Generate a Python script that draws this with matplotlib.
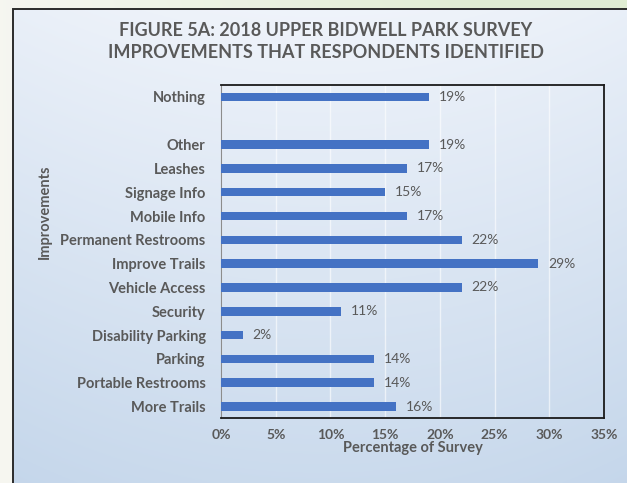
import numpy as np
import matplotlib
matplotlib.use("Agg")
import matplotlib.pyplot as plt
from matplotlib.patches import Rectangle
from matplotlib.ticker import FuncFormatter

plt.rcParams["font.family"] = ["Lato", "DejaVu Sans"]

# Survey responses, listed bottom to top; "" leaves a gap above "Other"
categories = ["More Trails", "Portable Restrooms", "Parking", "Disability Parking",
              "Security", "Vehicle Access", "Improve Trails", "Permanent Restrooms",
              "Mobile Info", "Signage Info", "Leashes", "Other", "", "Nothing"]
percent = [16, 14, 14, 2, 11, 22, 29, 22, 17, 15, 17, 19, None, 19]
x_ticks = [0, 5, 10, 15, 20, 25, 30, 35]

TEXT = "#595959"
BAR = "#4472c4"

W, H = 627, 483
fig = plt.figure(figsize=(W / 100, H / 100), dpi=100)

# page backdrop: cream fading into a pale green at the top right
bg = fig.add_axes([0, 0, 1, 1], zorder=-3)
gx = np.linspace(0, 1, 200)[None, :]
gy = np.linspace(0, 1, 200)[:, None]
t = np.clip(gx * (1 - gy) * 1.3, 0, 1)[..., None]
page = (1 - t) * np.array([0.965, 0.965, 0.945]) + t * np.array([0.88, 0.93, 0.83])
bg.imshow(page, aspect="auto", extent=[0, 1, 0, 1], origin="upper")
bg.set_axis_off()

# chart panel: white at the top shading to light blue
px0, py1 = 13 / W, 1 - 9 / H
panel = fig.add_axes([px0, 0, 1 - px0, py1], zorder=-2)
vy = np.linspace(0, 1, 300)[:, None]
vx = np.linspace(-1, 1, 300)[None, :]
s = np.clip(0.12 + 0.75 * vy + 0.12 * vx ** 2, 0, 1)[..., None]
shade = (1 - s) * np.array([0.96, 0.97, 0.99]) + s * np.array([0.77, 0.84, 0.92])
panel.imshow(shade, aspect="auto", extent=[0, 1, 0, 1], origin="upper")
panel.set_axis_off()
fig.patches.append(Rectangle((px0, -0.01), 1.1, py1 + 0.01, transform=fig.transFigure,
                             fill=False, edgecolor="#2b2b2b", linewidth=1.4, zorder=-1))

ax = fig.add_axes([221 / W, 1 - 418 / H, (604 - 221) / W, (418 - 85) / H])
ax.patch.set_alpha(0)

ypos = np.arange(len(categories))
for y, v in zip(ypos, percent):
    if v is None:
        continue
    ax.barh(y, v, height=0.36, color=BAR, zorder=3)
    ax.text(v + 0.9, y, f"{v}%", va="center", ha="left", fontsize=10,
            color=TEXT, zorder=4)

ax.set_yticks(ypos)
ax.set_yticklabels(categories, fontsize=10.5, fontweight="bold", color=TEXT)
ax.set_ylim(-0.48, 13.5)
ax.set_xlim(0, 35)
ax.set_xticks(x_ticks)
ax.xaxis.set_major_formatter(FuncFormatter(lambda v, _: f"{v:.0f}%"))
for lbl in ax.get_xticklabels():
    lbl.set_fontweight("bold")
ax.tick_params(axis="x", length=0, pad=8, labelsize=10, labelcolor=TEXT)
ax.tick_params(axis="y", length=0, pad=11)
ax.grid(True, axis="x", color="white", linewidth=1.0, alpha=0.6, zorder=0)

for side in ("top", "right", "bottom"):
    ax.spines[side].set_color("#1a1a1a")
    ax.spines[side].set_linewidth(1.3)
ax.spines["left"].set_color("#8c8c8c")
ax.spines["left"].set_linewidth(0.8)

ax.set_xlabel("Percentage of Survey", fontsize=10.5, fontweight="bold",
              color=TEXT, labelpad=0)
fig.text(45 / W, 1 - 212 / H, "Improvements", rotation=90, ha="center", va="center",
         fontsize=10.5, fontweight="bold", color=TEXT)

fig.text(326 / W, 1 - 30 / H, "FIGURE 5A: 2018 UPPER BIDWELL PARK SURVEY",
         ha="center", va="center", fontsize=13, fontweight="bold", color=TEXT)
fig.text(326 / W, 1 - 52 / H, "IMPROVEMENTS THAT RESPONDENTS IDENTIFIED",
         ha="center", va="center", fontsize=13, fontweight="bold", color=TEXT)

fig.savefig("out.png", dpi=100)
